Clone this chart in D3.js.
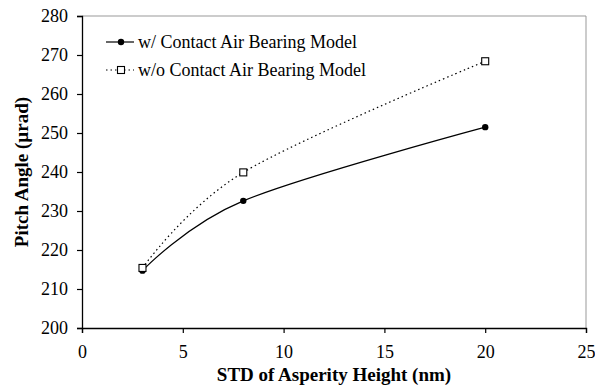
<!DOCTYPE html>
<html>
<head>
<meta charset="utf-8">
<script src="https://cdn.jsdelivr.net/npm/d3@7"></script>
<style>
  html, body { margin: 0; padding: 0; background: #fff; }
</style>
</head>
<body>
<svg id="chart" width="595" height="390"></svg>
<script>
// Asperity height standard deviation (nm)
const stdHeight = [3, 8, 20];
// Pitch angle (µrad) with and without the contact air bearing model
const withContact = [214.7, 232.6, 251.5];
const withoutContact = [215.4, 239.9, 268.4];
const seriesNames = ["w/ Contact Air Bearing Model", "w/o Contact Air Bearing Model"];
const xTicks = [0, 5, 10, 15, 20, 25];
const yTicks = [200, 210, 220, 230, 240, 250, 260, 270, 280];

const FONT = "Liberation Serif";
const svg = d3.select("#chart");
const margin = { left: 82, right: 9, top: 16, bottom: 62 };
const W = 595, H = 390;

const x = d3.scaleLinear().domain([0, 25]).range([margin.left, W - margin.right]);
const y = d3.scaleLinear().domain([200, 280]).range([H - margin.bottom, margin.top]);

// plot frame: light grey on top and right
svg.append("line")
  .attr("x1", x(0)).attr("x2", x(25)).attr("y1", y(280)).attr("y2", y(280))
  .attr("stroke", "#999").attr("stroke-width", 1);
svg.append("line")
  .attr("x1", x(25)).attr("x2", x(25)).attr("y1", y(280)).attr("y2", y(200))
  .attr("stroke", "#999").attr("stroke-width", 1);

// axes
const xAxis = svg.append("g")
  .attr("transform", `translate(0,${y(200)})`)
  .call(d3.axisBottom(x).tickValues(xTicks).tickSize(5).tickPadding(12).tickFormat(d3.format("d")));
const yAxis = svg.append("g")
  .attr("transform", `translate(${x(0)},0)`)
  .call(d3.axisLeft(y).tickValues(yTicks).tickSize(5).tickPadding(9).tickFormat(d3.format("d")));

[xAxis, yAxis].forEach(g => {
  g.attr("font-family", FONT).attr("font-size", 18);
  g.select(".domain").attr("stroke", "#000").attr("stroke-width", 1.3);
  g.selectAll(".tick line").attr("stroke", "#000").attr("stroke-width", 1.2);
  g.selectAll(".tick text")
    .attr("fill", "#000").attr("font-family", FONT).attr("font-size", 18);
});

// axis titles
svg.append("text")
  .attr("x", (x(0) + x(25)) / 2).attr("y", 381)
  .attr("text-anchor", "middle")
  .attr("font-family", FONT).attr("font-size", 19).attr("font-weight", "bold")
  .attr("fill", "#000")
  .text("STD of Asperity Height (nm)");
svg.append("text")
  .attr("transform", `translate(28,${(y(200) + y(280)) / 2}) rotate(-90)`)
  .attr("text-anchor", "middle")
  .attr("font-family", FONT).attr("font-size", 19).attr("font-weight", "bold")
  .attr("fill", "#000")
  .text("Pitch Angle (µrad)");

// smoothed series lines
const line = d3.line()
  .x((d, i) => x(stdHeight[i]))
  .y(d => y(d))
  .curve(d3.curveCardinal.tension(0));

svg.append("path").datum(withContact)
  .attr("d", line).attr("fill", "none")
  .attr("stroke", "#000").attr("stroke-width", 1.2);
svg.append("path").datum(withoutContact)
  .attr("d", line).attr("fill", "none")
  .attr("stroke", "#000").attr("stroke-width", 1.2)
  .attr("stroke-dasharray", "1.5,3");

// markers
svg.selectAll("circle.m1").data(withContact).enter().append("circle")
  .attr("cx", (d, i) => x(stdHeight[i])).attr("cy", d => y(d))
  .attr("r", 3.2).attr("fill", "#000");
svg.selectAll("rect.m2").data(withoutContact).enter().append("rect")
  .attr("x", (d, i) => x(stdHeight[i]) - 3.5).attr("y", d => y(d) - 3.5)
  .attr("width", 7).attr("height", 7)
  .attr("fill", "#fff").attr("stroke", "#000").attr("stroke-width", 1.1);

// legend
const legend = svg.append("g");
const rows = [42, 70];
rows.forEach((ly, i) => {
  legend.append("line")
    .attr("x1", 106).attr("x2", 134).attr("y1", ly).attr("y2", ly)
    .attr("stroke", "#000").attr("stroke-width", 1.2)
    .attr("stroke-dasharray", i === 0 ? null : "1.5,3");
  if (i === 0) {
    legend.append("circle").attr("cx", 121).attr("cy", ly).attr("r", 3.2).attr("fill", "#000");
  } else {
    legend.append("rect").attr("x", 117.5).attr("y", ly - 3.5).attr("width", 7).attr("height", 7)
      .attr("fill", "#fff").attr("stroke", "#000").attr("stroke-width", 1.1);
  }
  legend.append("text")
    .attr("x", 138).attr("y", ly + 6)
    .attr("font-family", FONT).attr("font-size", 18)
    .attr("fill", "#000")
    .text(seriesNames[i]);
});
</script>
</body>
</html>
